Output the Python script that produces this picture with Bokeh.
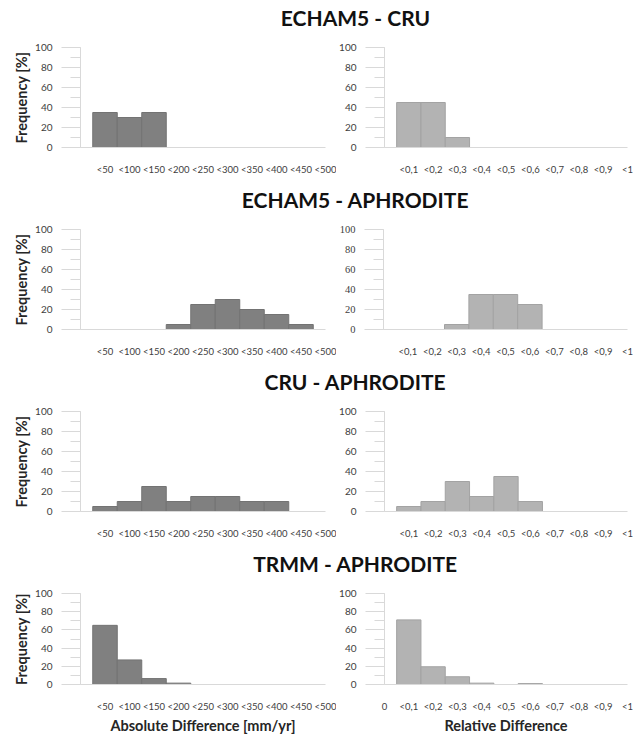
from bokeh.plotting import figure
from bokeh.layouts import column, row
from bokeh.models import Range1d, FixedTicker, SingleIntervalTicker, Label
from bokeh.embed import file_html
from bokeh.resources import INLINE

# ---------------- data ----------------
titles = ["ECHAM5 - CRU", "ECHAM5 - APHRODITE", "CRU - APHRODITE", "TRMM - APHRODITE"]
abs_labels = ["<50", "<100", "<150", "<200", "<250", "<300", "<350", "<400", "<450", "<500"]
rel_labels = ["<0,1", "<0,2", "<0,3", "<0,4", "<0,5", "<0,6", "<0,7", "<0,8", "<0,9", "<1"]

abs_echam_cru = [35, 30, 35, 0, 0, 0, 0, 0, 0, 0]
rel_echam_cru = [45, 45, 10, 0, 0, 0, 0, 0, 0, 0]
abs_echam_aphro = [0, 0, 0, 5, 25, 30, 20, 15, 5, 0]
rel_echam_aphro = [0, 0, 5, 35, 35, 25, 0, 0, 0, 0]
abs_cru_aphro = [5, 10, 25, 10, 15, 15, 10, 10, 0, 0]
rel_cru_aphro = [5, 10, 30, 15, 35, 10, 0, 0, 0, 0]
abs_trmm_aphro = [65, 27, 6.5, 1.5, 0, 0, 0, 0, 0, 0]
rel_trmm_aphro = [71, 19.5, 8.5, 1.5, 0, 1, 0, 0, 0, 0]

abs_series = [abs_echam_cru, abs_echam_aphro, abs_cru_aphro, abs_trmm_aphro]
rel_series = [rel_echam_cru, rel_echam_aphro, rel_cru_aphro, rel_trmm_aphro]

FONT = "Lato"
AXIS_GRAY = "#d9d9d9"
LABEL_COLOR = "#404040"


def title_fig(text):
    t = figure(width=640, height=30, x_range=Range1d(0, 640), y_range=Range1d(0, 30),
               output_backend="svg", toolbar_location=None,
               min_border_left=0, min_border_right=0, min_border_top=0, min_border_bottom=0)
    t.axis.visible = False
    t.grid.visible = False
    t.outline_line_color = None
    t.add_layout(Label(x=355, y=13, text=text, text_align="center", text_baseline="middle",
                       text_font=FONT, text_font_style="bold", text_font_size="21px",
                       text_color="#111111"))
    return t


def panel(values, labels, side, last, serif_y=False):
    if side == "left":
        width, bl, br, fill, line = 336, 80, 11, "#808080", "#737373"
    else:
        width, bl, br, fill, line = 304, 45, 13, "#b3b3b3", "#a3a3a3"
    height = 160 if last else 152
    bb = 43 if last else 35
    p = figure(width=width, height=height, x_range=Range1d(0, 10), y_range=Range1d(0, 100),
               output_backend="svg", toolbar_location=None,
               min_border_left=bl, min_border_right=br, min_border_top=17, min_border_bottom=bb)
    p.outline_line_color = None
    p.grid.visible = False

    xs = [i + 1 for i, v in enumerate(values) if v > 0]
    tops = [v for v in values if v > 0]
    p.vbar(x=xs, top=tops, width=1.0, bottom=0, fill_color=fill, line_color=line, line_width=1)

    # x axis
    ticks = list(range(1, len(labels) + 1))
    overrides = {i + 1: lab for i, lab in enumerate(labels)}
    if last and side == "right":
        ticks = [0] + ticks
        overrides[0] = "0"
    xa = p.xaxis[0]
    xa.ticker = FixedTicker(ticks=ticks)
    xa.major_label_overrides = overrides
    xa.axis_line_color = AXIS_GRAY
    xa.major_tick_line_color = None
    xa.minor_tick_line_color = None
    xa.major_label_standoff = 10
    xa.major_label_text_font = FONT
    xa.major_label_text_font_size = "9.5px"
    xa.major_label_text_color = LABEL_COLOR
    if last:
        xa.axis_label = "Absolute Difference [mm/yr]" if side == "left" else "Relative Difference"
        xa.axis_label_text_font = FONT
        xa.axis_label_text_font_style = "bold"
        xa.axis_label_text_font_size = "14.5px"
        xa.axis_label_text_color = "#262626"
        xa.axis_label_standoff = 2

    # y axis
    ya = p.yaxis[0]
    ya.ticker = SingleIntervalTicker(interval=20, num_minor_ticks=2)
    ya.axis_line_color = AXIS_GRAY
    ya.major_tick_line_color = AXIS_GRAY
    ya.minor_tick_line_color = AXIS_GRAY
    ya.major_tick_in = 0
    ya.major_tick_out = 19
    ya.minor_tick_in = 0
    ya.minor_tick_out = 10
    ya.major_label_standoff = 9
    ya.major_label_text_font = "Liberation Serif" if serif_y else FONT
    ya.major_label_text_font_size = "10.5px" if serif_y else "10px"
    ya.major_label_text_color = LABEL_COLOR
    if side == "left":
        ya.axis_label = "Frequency [%]"
        ya.axis_label_text_font = FONT
        ya.axis_label_text_font_style = "bold"
        ya.axis_label_text_font_size = "14.5px"
        ya.axis_label_text_color = "#262626"
        ya.axis_label_standoff = 2
    return p


rows = []
for k in range(4):
    last = k == 3
    rows.append(title_fig(titles[k]))
    left = panel(abs_series[k], abs_labels, "left", last)
    right = panel(rel_series[k], rel_labels, "right", last, serif_y=(k == 1))
    rows.append(row(left, right, spacing=0))

layout = column(*rows, spacing=0)

open("out.html", "w").write(file_html(layout, INLINE))
